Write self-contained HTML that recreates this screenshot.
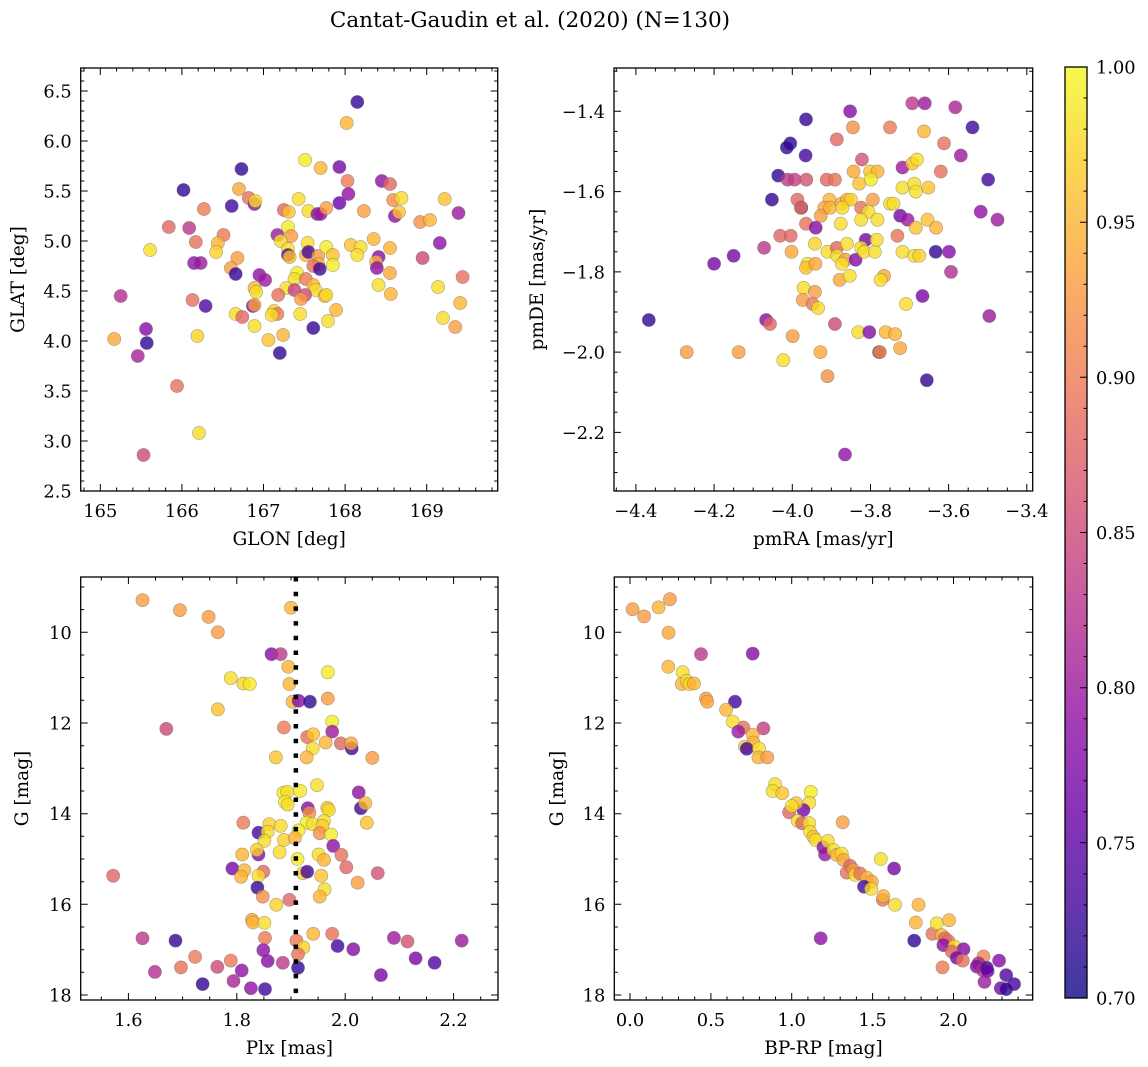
<!DOCTYPE html>
<html><head><meta charset="utf-8"><style>
html,body{margin:0;padding:0;background:#fff}
svg{display:block;font-family:"DejaVu Serif","Liberation Serif",serif}
</style></head><body>
<svg id="fig" width="1148" height="1067" viewBox="0 0 1148 1067">
<text x="530" y="27" font-size="21.5" text-anchor="middle">Cantat-Gaudin et al. (2020) (N=130)</text>
</svg>
<script>
// ---- Panel A: GLON vs GLAT
const glon=[168.15,168.02,167.51,167.70,167.93,168.03,166.73,166.02,166.70,166.82,166.89,166.90,166.61,166.27,167.43,167.25,167.31,167.55,167.66,167.70,167.77,167.93,168.04,168.23,168.45,168.55,168.59,168.69,168.61,168.66,169.22,169.39,168.92,169.04,165.84,166.09,166.17,166.51,166.44,166.42,165.61,166.15,166.23,166.68,166.60,166.66,167.17,167.30,167.34,167.21,167.30,167.30,167.32,167.54,167.52,167.55,167.67,167.77,167.85,167.85,167.67,167.61,167.69,168.07,168.19,168.15,168.35,168.55,168.41,168.38,168.39,168.55,168.95,169.16,169.44,169.14,168.41,168.56,169.41,169.20,169.35,166.95,167.02,167.41,167.38,167.28,167.38,167.52,167.61,167.64,167.51,167.46,167.75,167.77,166.89,166.91,167.18,166.87,166.89,166.13,166.29,165.25,166.66,166.74,167.13,167.17,167.10,167.45,167.89,167.79,167.61,166.89,167.06,167.24,167.20,165.56,165.57,165.17,166.19,165.46,165.94,166.21,165.53];
const glat=[6.39,6.18,5.81,5.73,5.74,5.60,5.72,5.51,5.52,5.43,5.37,5.40,5.35,5.32,5.42,5.31,5.29,5.30,5.27,5.27,5.33,5.38,5.47,5.30,5.60,5.57,5.41,5.43,5.25,5.29,5.42,5.28,5.19,5.21,5.14,5.13,4.99,5.06,4.98,4.89,4.91,4.78,4.78,4.83,4.73,4.67,5.06,5.14,5.05,5.00,4.92,4.86,4.84,4.98,4.86,4.89,4.85,4.94,4.86,4.76,4.77,4.75,4.72,4.96,4.94,4.86,5.02,4.93,4.84,4.79,4.73,4.68,4.83,4.98,4.64,4.54,4.56,4.47,4.38,4.23,4.14,4.66,4.61,4.68,4.62,4.53,4.51,4.62,4.56,4.51,4.46,4.42,4.45,4.46,4.53,4.49,4.46,4.35,4.36,4.41,4.35,4.45,4.27,4.24,4.30,4.27,4.26,4.27,4.31,4.20,4.13,4.15,4.01,4.06,3.88,4.12,3.98,4.02,4.05,3.85,3.55,3.08,2.86];
const probA=[0.72,0.95,0.99,0.95,0.77,0.9,0.72,0.72,0.94,0.89,0.79,0.98,0.73,0.9,0.98,0.88,0.96,0.98,0.79,0.8,0.93,0.76,0.79,0.93,0.79,0.88,0.92,0.98,0.79,0.96,0.96,0.8,0.92,0.95,0.88,0.83,0.89,0.9,0.95,0.97,0.98,0.79,0.8,0.93,0.93,0.72,0.8,0.99,0.93,0.98,0.98,0.74,0.96,0.98,0.95,0.73,0.93,0.99,0.96,0.99,0.95,0.89,0.73,0.96,0.98,0.98,0.95,0.95,0.78,0.95,0.79,0.94,0.85,0.79,0.89,0.98,0.98,0.95,0.95,0.98,0.93,0.79,0.8,0.99,0.98,0.98,0.84,0.9,0.95,0.98,0.85,0.93,0.95,0.98,0.95,0.98,0.89,0.78,0.93,0.89,0.74,0.82,0.98,0.88,0.97,0.9,0.98,0.98,0.95,0.98,0.72,0.98,0.96,0.95,0.72,0.78,0.72,0.94,0.97,0.81,0.89,0.98,0.85];
// ---- Panel B: pmRA vs pmDE
const pmra=[-3.852,-3.693,-3.661,-3.583,-3.965,-3.845,-3.750,-3.663,-3.539,-4.005,-4.014,-3.886,-3.966,-3.612,-3.569,-3.822,-3.718,-3.693,-3.681,-3.620,-4.036,-4.012,-3.994,-3.964,-3.912,-3.891,-3.843,-3.801,-3.782,-3.799,-3.829,-3.718,-3.688,-3.684,-3.652,-3.499,-4.052,-3.987,-3.977,-3.978,-3.905,-3.918,-3.927,-3.903,-3.874,-3.860,-3.850,-3.872,-3.794,-3.824,-3.805,-3.824,-3.782,-3.750,-3.741,-3.724,-3.705,-3.654,-3.684,-3.632,-3.518,-3.475,-3.965,-3.940,-3.876,-4.031,-4.004,-4.072,-4.150,-4.200,-4.002,-3.942,-3.910,-3.886,-3.860,-3.885,-3.864,-3.838,-3.812,-3.824,-3.816,-3.789,-3.784,-3.731,-3.718,-3.688,-3.675,-3.633,-3.599,-3.594,-3.961,-3.965,-3.941,-3.873,-3.879,-3.853,-3.765,-3.774,-3.971,-3.942,-3.973,-3.948,-3.934,-3.709,-3.667,-4.367,-4.067,-4.057,-3.891,-3.496,-3.999,-3.831,-3.803,-3.761,-3.737,-3.724,-4.270,-4.137,-4.023,-3.928,-3.778,-3.776,-3.910,-3.656,-3.865];
const pmde=[-1.40,-1.38,-1.38,-1.39,-1.42,-1.44,-1.44,-1.45,-1.44,-1.48,-1.49,-1.47,-1.51,-1.48,-1.51,-1.52,-1.54,-1.53,-1.52,-1.55,-1.56,-1.57,-1.57,-1.57,-1.57,-1.57,-1.55,-1.55,-1.55,-1.57,-1.58,-1.59,-1.58,-1.60,-1.59,-1.57,-1.62,-1.62,-1.64,-1.64,-1.62,-1.64,-1.66,-1.64,-1.63,-1.62,-1.62,-1.64,-1.62,-1.64,-1.65,-1.67,-1.67,-1.63,-1.63,-1.66,-1.67,-1.67,-1.69,-1.69,-1.65,-1.67,-1.68,-1.69,-1.68,-1.71,-1.71,-1.74,-1.76,-1.78,-1.75,-1.73,-1.75,-1.74,-1.73,-1.76,-1.77,-1.77,-1.72,-1.74,-1.75,-1.75,-1.72,-1.71,-1.75,-1.76,-1.76,-1.75,-1.75,-1.80,-1.78,-1.79,-1.78,-1.78,-1.82,-1.81,-1.81,-1.82,-1.84,-1.85,-1.87,-1.88,-1.89,-1.88,-1.86,-1.92,-1.92,-1.93,-1.93,-1.91,-1.96,-1.95,-1.95,-1.95,-1.955,-1.99,-2.00,-2.00,-2.02,-2.00,-2.00,-2.00,-2.06,-2.07,-2.255];
const probB=[0.78,0.83,0.8,0.81,0.72,0.92,0.9,0.95,0.73,0.72,0.72,0.88,0.73,0.89,0.8,0.86,0.8,0.96,0.98,0.89,0.72,0.83,0.84,0.86,0.88,0.89,0.94,0.96,0.95,0.99,0.96,0.98,0.98,0.98,0.96,0.73,0.72,0.88,0.73,0.89,0.95,0.94,0.93,0.95,0.94,0.95,0.97,0.98,0.93,0.89,0.98,0.98,0.98,0.98,0.98,0.77,0.8,0.96,0.96,0.95,0.79,0.8,0.89,0.78,0.98,0.88,0.88,0.83,0.77,0.77,0.94,0.97,0.98,0.88,0.98,0.98,0.93,0.78,0.77,0.98,0.98,0.98,0.98,0.89,0.98,0.98,0.97,0.72,0.78,0.82,0.98,0.96,0.94,0.98,0.94,0.98,0.94,0.98,0.98,0.93,0.93,0.9,0.98,0.98,0.77,0.72,0.78,0.88,0.85,0.8,0.93,0.98,0.78,0.95,0.95,0.94,0.93,0.93,0.98,0.94,0.72,0.92,0.92,0.72,0.79];
// ---- Panel C: Plx vs G
const plx=[1.626,1.695,1.748,1.765,1.90,1.864,1.881,1.895,1.968,1.789,1.812,1.824,1.897,1.765,1.903,1.914,1.935,1.968,1.670,1.887,1.976,1.976,1.93,1.941,1.964,1.992,2.012,2.011,1.94,1.872,1.929,2.05,1.948,1.886,1.893,1.917,2.025,1.889,1.894,1.931,1.934,2.029,2.037,1.967,1.97,2.04,1.812,1.86,1.881,1.929,1.94,1.961,1.958,1.84,1.857,1.914,1.953,1.974,1.851,1.887,1.907,1.978,1.84,1.837,1.81,1.879,1.912,1.951,1.961,1.993,1.792,1.814,1.808,1.849,1.84,1.922,1.93,2.002,2.06,1.572,1.956,2.023,1.838,1.962,1.953,1.848,1.897,1.873,1.828,1.83,1.851,1.626,1.687,1.852,1.941,1.976,2.09,2.115,2.215,1.91,1.923,1.986,2.015,1.723,1.789,1.849,1.857,1.885,1.913,1.913,2.13,2.165,1.649,1.697,1.764,1.809,2.066,1.737,1.794,1.826,1.852];
const gmagC=[9.29,9.51,9.66,10.0,9.46,10.48,10.48,10.76,10.88,11.01,11.13,11.14,11.14,11.7,11.53,11.51,11.53,11.46,12.13,12.1,11.97,12.19,12.31,12.25,12.43,12.45,12.56,12.45,12.56,12.76,12.76,12.77,13.37,13.54,13.52,13.5,13.53,13.74,13.8,13.88,13.98,13.88,13.77,13.87,13.92,14.2,14.2,14.23,14.27,14.2,14.23,14.16,14.27,14.42,14.4,14.37,14.43,14.46,14.6,14.58,14.54,14.71,14.9,14.8,14.9,14.85,15.0,14.9,15.02,14.91,15.21,15.25,15.39,15.28,15.37,15.31,15.28,15.18,15.31,15.37,15.37,15.52,15.63,15.67,15.83,15.83,15.9,16.01,16.34,16.4,16.41,16.75,16.8,16.74,16.65,16.65,16.74,16.82,16.8,16.8,16.95,16.92,16.99,17.16,17.24,17.01,17.25,17.29,17.1,17.4,17.19,17.29,17.49,17.39,17.38,17.46,17.56,17.76,17.69,17.85,17.87];
const probC=[0.93,0.93,0.93,0.93,0.95,0.78,0.83,0.95,0.99,0.98,0.97,0.99,0.95,0.96,0.95,0.78,0.72,0.93,0.85,0.9,0.99,0.8,0.89,0.96,0.95,0.88,0.73,0.94,0.98,0.96,0.95,0.93,0.98,0.99,0.98,0.99,0.79,0.99,0.98,0.78,0.92,0.73,0.95,0.96,0.98,0.96,0.9,0.97,0.98,0.99,0.98,0.98,0.97,0.73,0.98,0.99,0.92,0.99,0.98,0.97,0.95,0.79,0.78,0.97,0.95,0.98,0.99,0.98,0.95,0.89,0.77,0.95,0.95,0.88,0.98,0.97,0.73,0.88,0.86,0.88,0.96,0.93,0.72,0.98,0.95,0.92,0.88,0.97,0.94,0.95,0.98,0.83,0.72,0.9,0.95,0.89,0.8,0.86,0.8,0.9,0.97,0.73,0.78,0.9,0.9,0.79,0.78,0.83,0.89,0.72,0.77,0.74,0.82,0.89,0.85,0.79,0.77,0.72,0.81,0.79,0.73];
const plxRef=[1.909];
// ---- Panel D: BP-RP vs G
const bprp=[0.016,0.087,0.177,0.247,0.239,0.439,0.759,0.237,0.326,0.320,0.351,0.367,0.396,0.470,0.478,0.649,0.594,0.635,0.701,0.670,0.825,0.759,0.763,0.711,0.722,0.798,0.794,0.849,0.897,0.882,0.942,1.118,1.109,0.984,1.072,1.027,1.0,1.037,1.064,1.109,1.113,1.134,1.148,1.315,1.196,1.206,1.223,1.258,1.278,1.309,1.320,1.361,1.340,1.381,1.392,1.423,1.464,1.495,1.447,1.491,1.551,1.633,1.563,1.567,1.639,1.784,1.767,1.757,1.179,1.870,1.897,1.973,1.928,1.948,1.969,1.938,2.006,2.062,1.990,2.021,2.058,1.932,2.186,2.155,2.144,2.181,2.206,2.212,2.192,2.282,2.326,2.375,2.293,2.326];
const gmagD=[9.49,9.65,9.45,9.27,10.01,10.48,10.47,10.76,10.88,11.14,11.07,11.14,11.13,11.46,11.53,11.53,11.71,11.97,12.1,12.19,12.12,12.26,12.43,12.52,12.57,12.56,12.76,12.76,13.35,13.5,13.55,13.52,13.76,13.97,13.92,13.77,13.83,14.16,14.21,14.21,14.4,14.51,14.58,14.19,14.74,14.9,14.6,14.8,14.91,14.88,15.02,15.15,15.3,15.24,15.35,15.32,15.41,15.5,15.61,15.66,15.0,15.21,15.9,15.82,16.01,16.01,16.4,16.8,16.75,16.65,16.42,16.35,16.68,16.75,16.81,16.9,16.93,16.99,17.04,17.18,17.24,17.39,17.15,17.3,17.37,17.45,17.4,17.47,17.71,17.24,17.56,17.76,17.85,17.87];
const probD=[0.93,0.93,0.95,0.93,0.94,0.83,0.78,0.95,0.98,0.95,0.98,0.97,0.95,0.93,0.94,0.73,0.95,0.98,0.89,0.8,0.84,0.95,0.95,0.96,0.73,0.98,0.95,0.93,0.98,0.98,0.96,0.99,0.98,0.88,0.77,0.96,0.98,0.98,0.88,0.98,0.98,0.96,0.98,0.93,0.78,0.8,0.98,0.98,0.95,0.98,0.94,0.88,0.89,0.93,0.98,0.89,0.95,0.94,0.73,0.98,0.98,0.77,0.89,0.95,0.98,0.95,0.95,0.72,0.79,0.89,0.98,0.95,0.95,0.88,0.89,0.79,0.98,0.78,0.88,0.77,0.89,0.9,0.91,0.81,0.78,0.82,0.73,0.76,0.8,0.78,0.74,0.73,0.77,0.72];
// ---- tick values
const xTicksA=[165,166,167,168,169], yTicksA=[2.5,3.0,3.5,4.0,4.5,5.0,5.5,6.0,6.5];
const xTicksB=[-4.4,-4.2,-4.0,-3.8,-3.6,-3.4], yTicksB=[-2.2,-2.0,-1.8,-1.6,-1.4];
const xTicksC=[1.6,1.8,2.0,2.2], yTicksG=[10,12,14,16,18];
const xTicksD=[0.0,0.5,1.0,1.5,2.0];
const cbTicks=[0.70,0.75,0.80,0.85,0.90,0.95,1.00];

const NS="http://www.w3.org/2000/svg";
const svg=document.getElementById('fig');
const TF=17.8, LF=18.5;
function mk(tag,attrs,parent){const e=document.createElementNS(NS,tag);for(const k in attrs)e.setAttribute(k,attrs[k]);(parent||svg).appendChild(e);return e;}
const stops=[[13,8,135],[65,4,157],[106,0,168],[143,13,164],[177,42,144],[204,71,120],[225,100,98],[242,132,75],[252,166,54],[252,206,37],[240,249,33]];
function plasma(t){t=Math.max(0,Math.min(1,t));const f=t*10,i=Math.min(9,Math.floor(f)),r=f-i;const a=stops[i],b=stops[i+1];return 'rgb('+a.map((v,k)=>Math.round(v+(b[k]-v)*r)).join(',')+')';}
function col(p){return plasma((p-0.7)/0.3);}
function fmt(v,d){const s=v.toFixed(d);return v<0?'\u2212'+s.slice(1):s;}

function panel(cfg){
  const g=mk('g',{});
  
  
  const sx=v=>cfg.L+(v-cfg.x0)/(cfg.x1-cfg.x0)*(cfg.R-cfg.L);
  const sy=cfg.inv?(v=>cfg.T+(v-cfg.y0)/(cfg.y1-cfg.y0)*(cfg.B-cfg.T)):(v=>cfg.B-(v-cfg.y0)/(cfg.y1-cfg.y0)*(cfg.B-cfg.T));
  const pg=mk('g',{},g);
  
  
  for(let i=0;i<cfg.xs.length;i++){
    const c=mk('circle',{cx:sx(cfg.xs[i]).toFixed(1),cy:sy(cfg.ys[i]).toFixed(1),r:6.6,fill:col(cfg.ps[i]),'fill-opacity':0.8,stroke:'#666','stroke-opacity':0.55,'stroke-width':0.6},pg);
    
    
  }
  if(cfg.extra)cfg.extra(g,sx,sy);
  const fr=mk('rect',{x:cfg.L,y:cfg.T,width:cfg.R-cfg.L,height:cfg.B-cfg.T,fill:'none',stroke:'#000','stroke-width':1.3},g);
  
  
  let d='';
  const eps=1e-9;
  for(let v=Math.ceil(cfg.x0/cfg.xm-eps)*cfg.xm; v<=cfg.x1+eps; v+=cfg.xm){const X=sx(v).toFixed(1);d+=`M${X},${cfg.B}v-3.5M${X},${cfg.T}v3.5`;}
  for(let v=Math.ceil(cfg.y0/cfg.ym-eps)*cfg.ym; v<=cfg.y1+eps; v+=cfg.ym){const Y=sy(v).toFixed(1);d+=`M${cfg.L},${Y}h3.5M${cfg.R},${Y}h-3.5`;}
  cfg.xt.forEach(v=>{const X=sx(v).toFixed(1);d+=`M${X},${cfg.B}v-7M${X},${cfg.T}v7`;});
  cfg.yt.forEach(v=>{const Y=sy(v).toFixed(1);d+=`M${cfg.L},${Y}h7M${cfg.R},${Y}h-7`;});
  mk('path',{d:d,stroke:'#000','stroke-width':1,fill:'none'},g);
  cfg.xt.forEach(v=>{const t=mk('text',{x:sx(v).toFixed(1),y:cfg.B+26,'font-size':TF,'text-anchor':'middle'},g);t.textContent=fmt(v,cfg.xd);
    
    });
  cfg.yt.forEach(v=>{const t=mk('text',{x:cfg.L-9,y:(sy(v)+6.5).toFixed(1),'font-size':TF,'text-anchor':'end'},g);t.textContent=fmt(v,cfg.yd);
    
    });
  const xl=mk('text',{x:(cfg.L+cfg.R)/2,y:cfg.B+54,'font-size':LF,'text-anchor':'middle'},g);xl.textContent=cfg.xlab;
  
  
  const yc=(cfg.T+cfg.B)/2;
  const yl=mk('text',{x:cfg.ylx,y:yc,'font-size':LF,'text-anchor':'middle',transform:`rotate(-90 ${cfg.ylx} ${yc})`},g);yl.textContent=cfg.ylab;
  
  
}
panel({name:'glon-glat-panel',L:80.7,R:497.7,T:68,B:491,x0:164.76,x1:169.87,y0:2.5,y1:6.73,xs:glon,ys:glat,ps:probA,xt:xTicksA,yt:yTicksA,xm:0.2,ym:0.1,xd:0,yd:1,xlab:'GLON [deg]',ylab:'GLAT [deg]',ylx:24});
panel({name:'pm-panel',L:614,R:1032.7,T:68,B:491,x0:-4.456,x1:-3.385,y0:-2.346,y1:-1.292,xs:pmra,ys:pmde,ps:probB,xt:xTicksB,yt:yTicksB,xm:0.05,ym:0.05,xd:1,yd:1,xlab:'pmRA [mas/yr]',ylab:'pmDE [mas/yr]',ylx:543});
panel({name:'plx-g-panel',L:80.7,R:498,T:577,B:1000,x0:1.512,x1:2.282,y0:8.78,y1:18.11,inv:true,xs:plx,ys:gmagC,ps:probC,xt:xTicksC,yt:yTicksG,xm:0.05,ym:0.5,xd:1,yd:0,xlab:'Plx [mas]',ylab:'G [mag]',ylx:28,
  extra:(g,sx,sy)=>{const l=mk('line',{x1:sx(plxRef[0]),x2:sx(plxRef[0]),y1:577,y2:1000,stroke:'#000','stroke-width':4.5,'stroke-dasharray':'4.5 10.2'},g);
    
    }});
panel({name:'cmd-panel',L:614.3,R:1032.7,T:577,B:1000,x0:-0.097,x1:2.49,y0:8.78,y1:18.11,inv:true,xs:bprp,ys:gmagD,ps:probD,xt:xTicksD,yt:yTicksG,xm:0.1,ym:0.5,xd:1,yd:0,xlab:'BP-RP [mag]',ylab:'G [mag]',ylx:563});

const cb=mk('g',{});


const cL=1065,cR=1087,cT=67,cB=998;
const defs=mk('defs',{},cb);
const lg=mk('linearGradient',{id:'cbg',x1:0,y1:1,x2:0,y2:0},defs);
for(let i=0;i<=20;i++){mk('stop',{offset:(i/20),'stop-color':plasma(i/20),'stop-opacity':0.8},lg);}
mk('rect',{x:cL,y:cT,width:cR-cL,height:cB-cT,fill:'url(#cbg)',stroke:'#000','stroke-width':1.3},cb);
const cy=v=>cB-(v-0.7)/0.3*(cB-cT);
let cd='';
for(let k=70;k<=100;k++){const Y=cy(k/100).toFixed(1);cd+=`M${cR},${Y}h-${k%5===0?7:3.5}`;}
mk('path',{d:cd,stroke:'#000','stroke-width':1,fill:'none'},cb);
cbTicks.forEach(v=>{const t=mk('text',{x:cR+9,y:(cy(v)+6.5).toFixed(1),'font-size':TF},cb);t.textContent=v.toFixed(2);
  
  });
</script>
</body></html>
